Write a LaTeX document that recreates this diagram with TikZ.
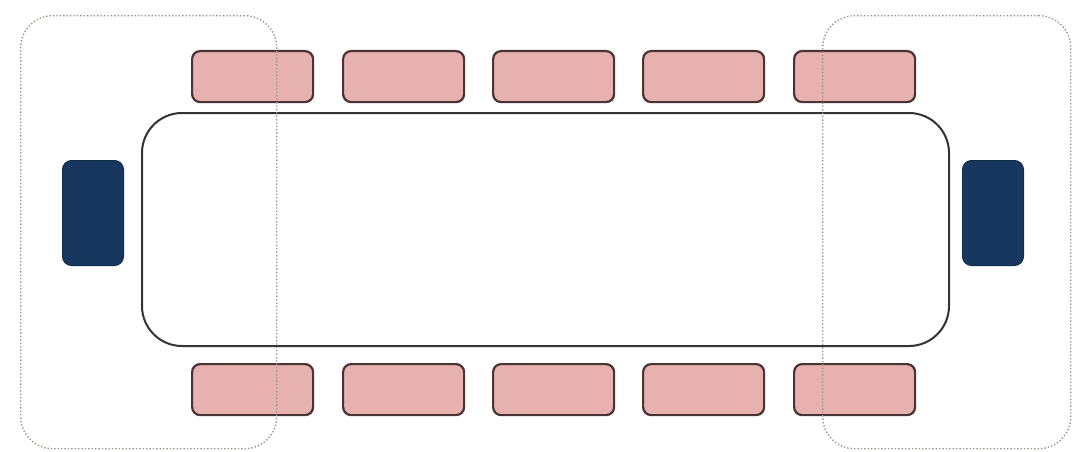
\documentclass[tikz,border=0pt]{standalone}
\definecolor{seat}{HTML}{E6B1AF}
\definecolor{seatedge}{HTML}{4A3333}
\definecolor{chair}{HTML}{17375E}
\definecolor{zone}{HTML}{9A968C}
\tikzset{
  px/.style={x=1pt,y=-1pt},
  seatbox/.style={draw=seatedge, fill=seat, line width=2.2pt, rounded corners=8pt, minimum width=121pt, minimum height=51pt, inner sep=0pt, anchor=north west},
  endbox/.style={draw=chair!80!black, fill=chair, line width=1pt, rounded corners=9pt, minimum width=61pt, minimum height=105pt, inner sep=0pt, anchor=north west},
  tablebox/.style={draw=black!80, line width=2pt, rounded corners=40pt, minimum width=807pt, minimum height=233pt, inner sep=0pt, anchor=north west},
  zonebox/.style={draw=zone, dotted, line width=1.4pt, rounded corners=32pt, inner sep=0pt, anchor=north west}
}
\begin{document}
\begin{tikzpicture}[px]
\useasboundingbox (0,0) rectangle (1074,452);
\node[tablebox] (table) at (141,112) {};
\foreach \i/\x in {1/191,2/342,3/492,4/642,5/793}{
  \node[seatbox] (t\i) at (\x,50) {};
  \node[seatbox] (b\i) at (\x,363) {};
}
\node[endbox] (lend) at (62,160) {};
\node[endbox] (rend) at (962,160) {};
\node[zonebox, minimum width=256pt, minimum height=433pt] (lzone) at (20,15) {};
\node[zonebox, minimum width=248pt, minimum height=433pt] (rzone) at (822,15) {};
\end{tikzpicture}
\end{document}
